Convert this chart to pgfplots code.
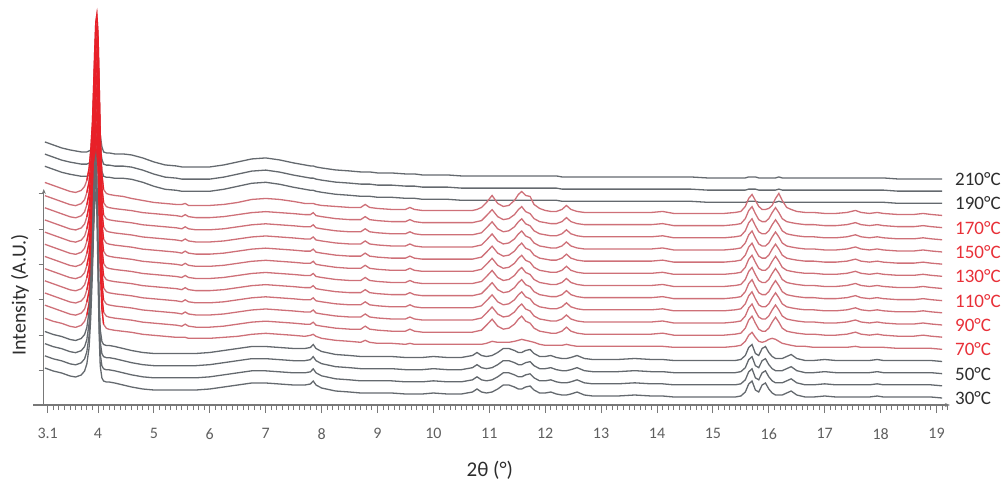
\documentclass[border=0pt]{standalone}
\usepackage{fontspec}
\setmainfont{Carlito}
\usepackage{pgfplots}
\usepackage{pgfplotstable}
\pgfplotsset{compat=1.18}
\usetikzlibrary{arrows.meta}

\definecolor{lgray}{RGB}{100,105,110}
\definecolor{lred}{RGB}{206,112,120}
\definecolor{sred}{RGB}{232,32,40}
\definecolor{axgray}{RGB}{120,120,120}
\definecolor{tgray}{RGB}{95,95,95}
\definecolor{lblred}{RGB}{232,48,56}
\definecolor{lbldark}{RGB}{45,45,45}

% profiles above each pattern's right-end baseline (px); gA = 30-60 C, rA = 70 C,
% rB = 80-170 C, rC = 180 C, gH = 190-210 C
\pgfplotstableread{
x gA rA rB rC gH
3.05 30 31 32 33 37
3.2 27 28 29 30 34
3.35 25 26 26 27 31
3.5 22 23 23 24 29
3.6 21 22 22 23 28
3.7 23 24 24 25 27
3.76 27 28 28 29 27
3.8 34 34 35 35 27
3.84 50 46 46 47 28
3.87 80 64 64 65 29
3.9 125 92 92 93 31
3.92 165 125 125 126 33
3.94 198 162 162 163 36
3.96 205 192 192 193 40
3.98 185 200 200 201 45
4.0 125 182 182 183 49
4.02 65 135 135 136 50
4.04 32 82 82 83 44
4.07 20 40 40 41 32
4.1 17 25 25 26 27
4.15 16 21 21 22 26
4.2 16 20 20 21 26
4.3 15 19 19 20 25
4.45 13 18 18 19 25
4.6 11 17 17 17 24
4.8 9 15 15 15 21
5.0 8 14 14 13 17
5.2 8 13 13 12 14
5.4 8 12 12 11 13
5.5 8 12 11 11 12
5.56 8 12 13 12 12
5.62 8 11 11 10 12
5.75 8 11 10 10 12
6.0 9 11 10 10 12
6.25 11 12 11 11 14
6.5 13 13 13 13 17
6.75 15 15 15 16 20
7.0 15 16 16 17 21
7.25 14 15 15 16 19
7.5 13 14 14 14 16
7.7 13 13 13 12 14
7.8 14 14 13 12 13
7.85 17 15 15 12 13
7.9 13 13 12 11 12
8.0 10 11 11 10 11
8.25 7 9 9 9 9
8.5 6 8 8 8 8
8.7 5 7 8 8 7
8.78 5 9 11 11 7
8.86 5 7 8 8 7
9.0 5 6 7 7 6
9.25 5 6 6 6 6
9.5 4 5 6 6 5
9.58 4 6 8 8 5
9.66 4 5 6 6 5
9.8 4 5 5 5 4
10.0 5 5 5 5 4
10.25 4 5 5 5 4
10.5 4 5 5 5 3
10.7 6 5 5 5 3
10.78 9 5 6 6 3
10.86 6 5 7 8 3
10.95 5 6 12 13 3
11.05 6 8 18 20 3
11.15 9 7 11 12 3
11.25 13 7 8 9 3
11.35 13 7 9 10 3
11.45 11 8 13 15 3
11.52 9 9 18 21 3
11.58 9 10 21 24 3
11.65 11 9 16 20 3
11.73 12 8 14 19 3
11.8 8 7 9 11 3
11.9 5 5 6 7 3
12.0 5 4 5 5 3
12.1 6 4 4 4 3
12.2 4 4 4 4 3
12.3 3 4 6 6 2
12.38 3 5 10 10 2
12.46 4 4 6 6 2
12.57 6 3 4 4 2
12.7 3 3 3 3 2
12.85 2 3 3 3 2
13.0 2 3 3 3 2
13.3 2 3 3 3 2
13.6 3 3 3 3 2
13.9 2 3 3 3 2
14.1 2 3 4 4 2
14.3 1 2 2 2 2
14.6 1 2 2 2 2
14.9 1 2 2 2 1
15.2 1 2 2 2 1
15.4 1 3 3 3 1
15.5 2 4 4 4 1
15.58 6 8 9 9 1
15.64 14 14 17 17 2
15.7 17 17 21 21 2
15.76 8 12 14 15 2
15.82 6 8 8 9 1
15.88 13 7 6 6 1
15.94 15 8 6 6 1
16.0 9 10 9 7 1
16.06 5 11 15 10 1
16.12 3 10 20 17 1
16.18 3 8 15 22 2
16.24 3 6 9 15 1
16.32 5 5 6 8 1
16.4 7 4 5 6 1
16.5 3 3 4 4 1
16.65 1 3 3 3 1
16.8 1 2 3 3 1
17.0 2 2 2 2 1
17.2 1 2 2 2 1
17.4 1 2 3 3 1
17.55 1 3 5 5 1
17.65 1 2 3 3 1
17.8 1 2 2 2 1
17.94 2 2 3 3 1
18.05 1 2 2 2 1
18.3 1 1 1 1 0
18.6 1 1 1 1 0
18.76 1 1 2 2 0
18.9 1 1 1 1 0
19.1 0 0 0 0 0
}\prof

\begin{document}
\begin{tikzpicture}
\begin{axis}[
  x=55.9pt, y=1pt,
  xmin=2.84, xmax=19.24, ymin=0, ymax=391,
  axis x line=bottom, axis y line=none,
  x axis line style={axgray, line width=1.3pt, -{Stealth[length=5pt,width=4pt]}},
  xtick={3.1,4,5,6,7,8,9,10,11,12,13,14,15,16,17,18,19},
  xticklabels={3.1,4,5,6,7,8,9,10,11,12,13,14,15,16,17,18,19},
  minor xtick={3.2,3.3,...,19.2},
  tick align=outside,
  major tick length=8pt, minor tick length=5pt,
  every tick/.style={axgray, line width=0.9pt},
  xticklabel style={font=\fontsize{16}{16}\selectfont, text=tgray, yshift=-12pt},
  no markers,
  every axis plot/.append style={line width=1.3pt},
  clip=false,
]
% 190-210 C
\pgfplotsinvokeforeach{16,17,18}{
  \addplot[lgray] table[x=x, y expr=\thisrow{gH}+7+#1*12.17] {\prof};
}
% 70-180 C
\addplot[lred] table[x=x, y expr=\thisrow{rA}+7+4*12.17] {\prof};
\pgfplotsinvokeforeach{5,...,14}{
  \addplot[lred] table[x=x, y expr=\thisrow{rB}+7+#1*12.17] {\prof};
}
\addplot[lred] table[x=x, y expr=\thisrow{rC}+7+15*12.17] {\prof};
% strong red at the main reflection
\addplot[sred, restrict x to domain=3.79:4.11] table[x=x, y expr=\thisrow{rA}+7+4*12.17] {\prof};
\pgfplotsinvokeforeach{5,...,14}{
  \addplot[sred, restrict x to domain=3.79:4.11] table[x=x, y expr=\thisrow{rB}+7+#1*12.17] {\prof};
}
\addplot[sred, restrict x to domain=3.79:4.11] table[x=x, y expr=\thisrow{rC}+7+15*12.17] {\prof};
% 30-60 C
\pgfplotsinvokeforeach{0,1,2,3}{
  \addplot[lgray] table[x=x, y expr=\thisrow{gA}+7+#1*12.17] {\prof};
}

% y axis
\draw[axgray, line width=1.3pt, -{Stealth[length=5pt,width=4pt]}] (axis cs:3.03,0) -- (axis cs:3.03,216);
\draw[axgray, line width=0.9pt]
  (axis cs:2.94,35) -- (axis cs:3.03,35)
  (axis cs:2.94,70) -- (axis cs:3.03,70)
  (axis cs:2.94,106) -- (axis cs:3.03,106)
  (axis cs:2.94,141) -- (axis cs:3.03,141)
  (axis cs:2.94,176) -- (axis cs:3.03,176)
  (axis cs:2.94,212) -- (axis cs:3.03,212);

% temperature labels
\begin{scope}[every node/.style={anchor=west, font=\fontsize{19}{19}\selectfont, inner sep=0pt}]
\node[text=lbldark] at (axis cs:19.33,7) {30°C};
\node[text=lbldark] at (axis cs:19.33,31.34) {50°C};
\node[text=lblred] at (axis cs:19.33,55.68) {70°C};
\node[text=lblred] at (axis cs:19.33,80.02) {90°C};
\node[text=lblred] at (axis cs:19.33,104.36) {110°C};
\node[text=lblred] at (axis cs:19.33,128.7) {130°C};
\node[text=lblred] at (axis cs:19.33,153.04) {150°C};
\node[text=lblred] at (axis cs:19.33,177.38) {170°C};
\node[text=lbldark] at (axis cs:19.33,201.72) {190°C};
\node[text=lbldark] at (axis cs:19.33,226.06) {210°C};
\end{scope}

\node[text=lbldark, font=\fontsize{21}{21}\selectfont] at (axis cs:11.01,-65) {2θ (°)};
\node[text=lbldark, rotate=90, font=\fontsize{20}{20}\selectfont] at (axis cs:2.605,110) {Intensity (A.U.)};

\coordinate (bl) at (axis cs:2.2469,-77);
\coordinate (tr) at (axis cs:20.2254,405);
\end{axis}
\pgfresetboundingbox
\path[use as bounding box] (bl) rectangle (tr);
\end{tikzpicture}
\end{document}
